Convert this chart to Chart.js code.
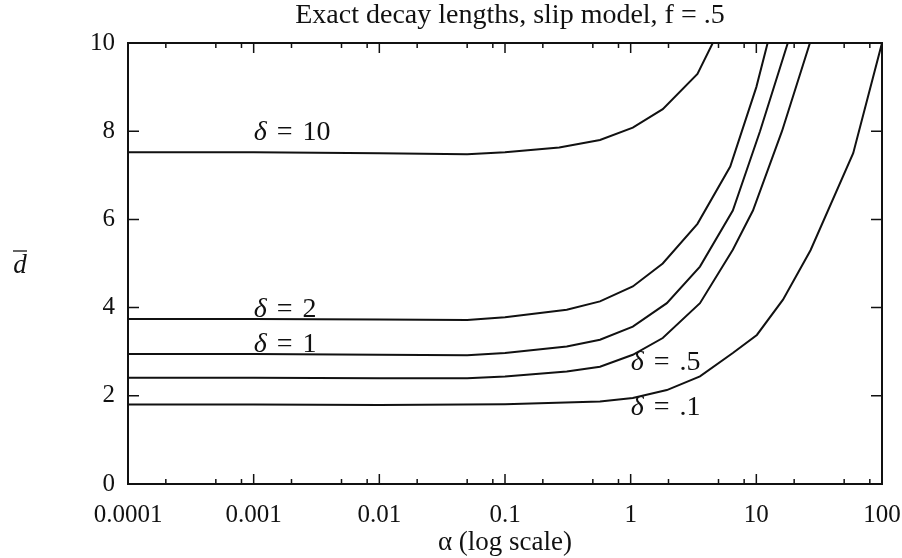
<!DOCTYPE html>
<html>
<head>
<meta charset="utf-8">
<script src="https://cdn.jsdelivr.net/npm/chart.js@4.4.1/dist/chart.umd.min.js"></script>
<style>
  body { margin: 0; background: #fff; }
</style>
</head>
<body>
<canvas id="decayChart" width="902" height="558"></canvas>
<script>
// x values (alpha) and decay lengths for each delta
const alpha10 = [0.0001, 0.001, 0.01, 0.05, 0.1, 0.27, 0.57, 1.04, 1.8, 3.4, 4.5];
const d10     = [7.52,   7.52,  7.50, 7.48, 7.52, 7.63, 7.80, 8.08, 8.5, 9.3, 10];

const alpha2 = [0.0001, 0.001, 0.01, 0.05, 0.1, 0.31, 0.57, 1.04, 1.8, 3.4, 6.2, 10, 12.3];
const d2     = [3.74,   3.74,  3.73, 3.72, 3.78, 3.95, 4.14, 4.48, 5.0, 5.9, 7.2, 9.0, 10];

const alpha1 = [0.0001, 0.001, 0.01, 0.05, 0.1, 0.31, 0.57, 1.04, 1.94, 3.56, 6.5, 10.7, 17.8];
const d1     = [2.95,   2.95,  2.93, 2.92, 2.97, 3.12, 3.27, 3.57, 4.1,  4.93, 6.2, 8.0,  10];

const alpha05 = [0.0001, 0.001, 0.01, 0.05, 0.1, 0.31, 0.57, 1.04, 1.8, 3.56, 6.5, 9.4, 16, 26.7];
const d05     = [2.41,   2.41,  2.40, 2.40, 2.44, 2.55, 2.66, 2.93, 3.31, 4.1, 5.31, 6.2, 8.0, 10];

const alpha01 = [0.0001, 0.001, 0.01, 0.1, 0.57, 1.04, 1.94, 3.56, 6.5, 10.1, 16.3, 27, 59, 100];
const d01     = [1.80,   1.80,  1.79, 1.81, 1.87, 1.95, 2.13, 2.44, 2.97, 3.38, 4.18, 5.3, 7.5, 10];

const xTicks = [0.0001, 0.001, 0.01, 0.1, 1, 10, 100];
const xTickLabels = ['0.0001', '0.001', '0.01', '0.1', '1', '10', '100'];
const xMinor = [2, 5, 8];
const yTicks = [0, 2, 4, 6, 8, 10];

// curve labels: [delta text, alpha, d]
const curveLabels = [
  ['10', 0.001, 7.97],
  ['2', 0.001, 3.95],
  ['1', 0.001, 3.16],
  ['.5', 1.0, 2.75],
  ['.1', 1.0, 1.73]
];

const titleText = 'Exact decay lengths, slip model, f = .5';
const serif = '"Liberation Serif", "DejaVu Serif", serif';

function toPoints(xs, ys) {
  return xs.map((v, i) => ({x: v, y: ys[i]}));
}

const series = [
  toPoints(alpha10, d10),
  toPoints(alpha2, d2),
  toPoints(alpha1, d1),
  toPoints(alpha05, d05),
  toPoints(alpha01, d01)
];

// frame, inward ticks and text labels
const decorations = {
  id: 'decorations',
  afterDatasetsDraw(chart) {
    const {ctx, chartArea: a, scales: {x, y}} = chart;
    ctx.save();
    ctx.strokeStyle = '#111';
    ctx.lineWidth = 1.5;
    ctx.beginPath();
    // x ticks, top and bottom
    xTicks.forEach((v, i) => {
      const px = x.getPixelForValue(v);
      ctx.moveTo(px, a.bottom); ctx.lineTo(px, a.bottom - 10);
      ctx.moveTo(px, a.top); ctx.lineTo(px, a.top + 10);
      if (i < xTicks.length - 1) {
        xMinor.forEach(m => {
          const mx = x.getPixelForValue(v * m);
          ctx.moveTo(mx, a.bottom); ctx.lineTo(mx, a.bottom - 5);
          ctx.moveTo(mx, a.top); ctx.lineTo(mx, a.top + 5);
        });
      }
    });
    // y ticks, left and right
    yTicks.forEach(v => {
      const py = y.getPixelForValue(v);
      ctx.moveTo(a.left, py); ctx.lineTo(a.left + 11, py);
      ctx.moveTo(a.right, py); ctx.lineTo(a.right - 11, py);
    });
    ctx.stroke();
    ctx.lineWidth = 2;
    ctx.strokeRect(a.left, a.top, a.right - a.left, a.bottom - a.top);

    ctx.fillStyle = '#111';

    // title, centred over the plot
    ctx.font = '28px ' + serif;
    ctx.textAlign = 'center';
    ctx.textBaseline = 'alphabetic';
    ctx.fillText(titleText, (a.left + a.right) / 2 + 5, 23);

    // delta labels
    ctx.textBaseline = 'middle';
    ctx.textAlign = 'left';
    curveLabels.forEach(([txt, ax, dy]) => {
      let px = x.getPixelForValue(ax);
      const py = y.getPixelForValue(dy);
      ctx.font = 'italic 28px ' + serif;
      ctx.fillText('\u03B4', px, py);
      px += ctx.measureText('\u03B4').width + 10;
      ctx.font = '28px ' + serif;
      ctx.fillText('=', px, py);
      px += ctx.measureText('=').width + 10;
      ctx.fillText(txt, px, py);
    });

    // y axis label, horizontal d-bar
    ctx.font = 'italic 27px ' + serif;
    ctx.textAlign = 'center';
    ctx.fillText('d', 20, 266);
    ctx.lineWidth = 1.3;
    ctx.beginPath();
    ctx.moveTo(13, 251); ctx.lineTo(27, 251);
    ctx.stroke();
    ctx.restore();
  }
};

new Chart(document.getElementById('decayChart'), {
  type: 'line',
  data: {
    datasets: series.map(pts => ({
      data: pts,
      borderColor: '#111',
      borderWidth: 2,
      pointRadius: 0,
      tension: 0,
      fill: false
    }))
  },
  options: {
    responsive: false,
    animation: false,
    devicePixelRatio: 1,
    layout: { padding: { top: 43, right: 0 } },
    plugins: {
      legend: { display: false },
      tooltip: { enabled: false },
      title: { display: false }
    },
    scales: {
      x: {
        type: 'logarithmic',
        min: 0.0001,
        max: 100,
        afterBuildTicks: s => { s.ticks = xTicks.map(v => ({value: v})); },
        afterFit: s => { s.height = 74; s.paddingRight = 20; s.paddingLeft = 0; },
        grid: { display: false, drawTicks: false },
        border: { display: false },
        ticks: {
          color: '#111',
          font: { family: serif, size: 25 },
          padding: 16,
          maxRotation: 0,
          autoSkip: false,
          callback: (v, i) => xTickLabels[i]
        },
        title: {
          display: true,
          text: 'α (log scale)',
          color: '#111',
          font: { family: serif, size: 27, lineHeight: 1.1 },
          padding: { top: 0, bottom: 0 }
        }
      },
      y: {
        min: 0,
        max: 10,
        afterBuildTicks: s => { s.ticks = yTicks.map(v => ({value: v})); },
        afterFit: s => { s.width = 128; },
        grid: { display: false, drawTicks: false },
        border: { display: false },
        ticks: {
          color: '#111',
          font: { family: serif, size: 25 },
          padding: 13
        }
      }
    }
  },
  plugins: [decorations]
});
</script>
</body>
</html>
